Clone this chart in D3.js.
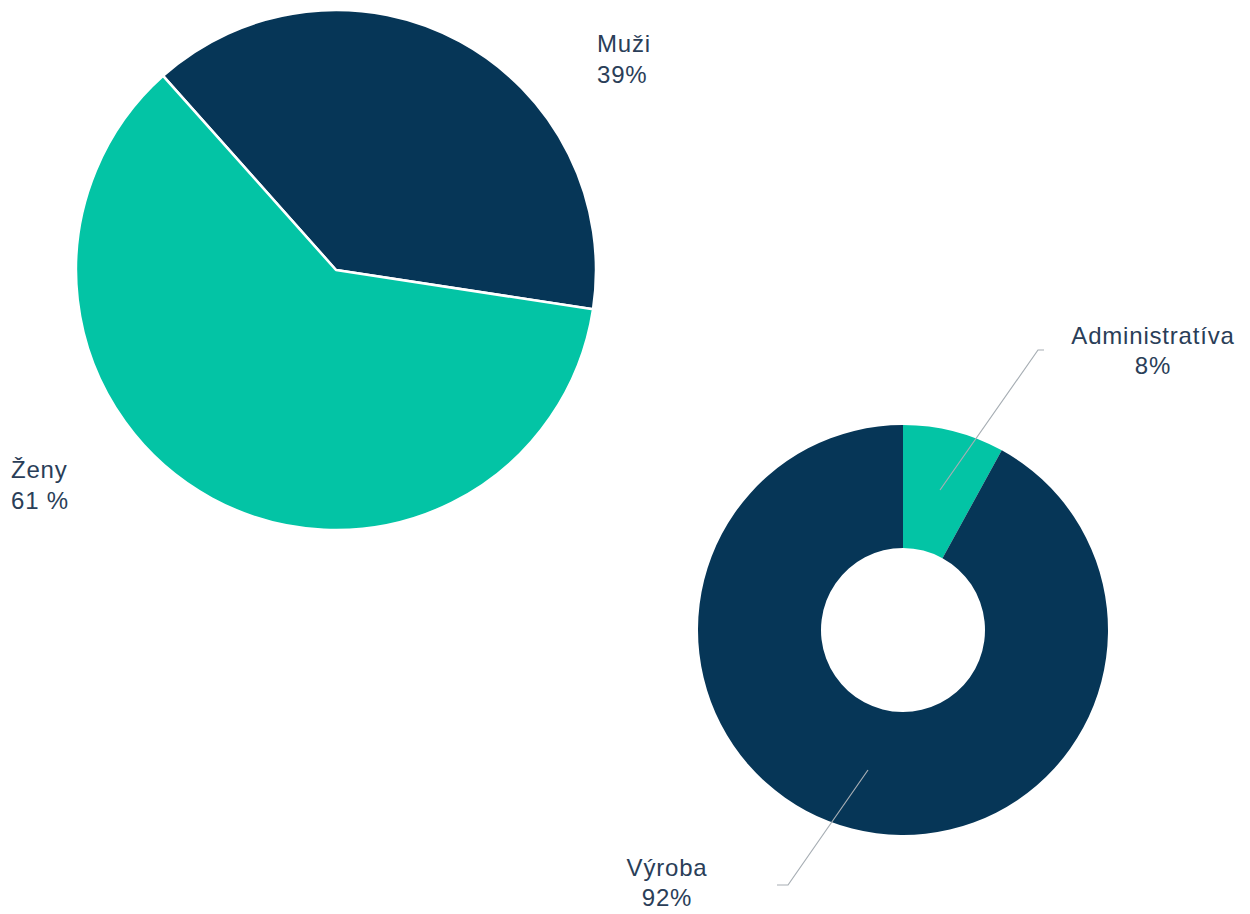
<!DOCTYPE html>
<html><head><meta charset="utf-8">
<script src="https://cdn.jsdelivr.net/npm/d3@7"></script>
<style>
html,body{margin:0;padding:0;background:#fff;}
text{font-family:"Liberation Sans",Arial,sans-serif;font-size:24px;fill:#2a3e58;letter-spacing:0.8px;}
</style></head><body>
<svg id="c" width="1250" height="914"></svg>
<script>
// Data
const genderCategories = ["Muži", "Ženy"];
const genderValues = [39, 61];
const genderLabels = ["39%", "61 %"];
const deptCategories = ["Administratíva", "Výroba"];
const deptValues = [8, 92];
const deptLabels = ["8%", "92%"];

const colorScale = d3.scaleOrdinal().domain(["dark","teal"]).range(["#063657", "#03c4a5"]);
const genderColors = [colorScale("dark"), colorScale("teal")];
const deptColors = [colorScale("teal"), colorScale("dark")];

const svg = d3.select("#c");
const deg = Math.PI / 180;

// Pie 1
const g1 = svg.append("g").attr("transform", "translate(336,270)");
const pie1 = d3.pie().sort(null).value(d => d.v).startAngle(-41.7 * deg).endAngle(318.3 * deg);
const arc1 = d3.arc().innerRadius(0).outerRadius(260);
const data1 = genderCategories.map((c, i) => ({c, v: genderValues[i], l: genderLabels[i], col: genderColors[i]}));
g1.selectAll("path").data(pie1(data1)).join("path")
  .attr("d", arc1).attr("fill", d => d.data.col)
  .attr("stroke", "#fff").attr("stroke-width", 2.5).attr("stroke-linejoin", "round");

const lab1 = [{x: 597, y: 52}, {x: 11, y: 478}];
data1.forEach((d, i) => {
  const t = svg.append("text").attr("x", lab1[i].x).attr("y", lab1[i].y);
  t.append("tspan").attr("x", lab1[i].x).text(d.c);
  t.append("tspan").attr("x", lab1[i].x).attr("dy", 31).text(d.l);
});

// Donut
const g2 = svg.append("g").attr("transform", "translate(903,630)");
const pie2 = d3.pie().sort(null).value(d => d.v);
const arc2 = d3.arc().innerRadius(82).outerRadius(205);
const data2 = deptCategories.map((c, i) => ({c, v: deptValues[i], l: deptLabels[i], col: deptColors[i]}));
const arcs2 = pie2(data2);
g2.selectAll("path").data(arcs2).join("path")
  .attr("d", arc2).attr("fill", d => d.data.col);

// Leader lines (layout, relative to donut centre)
const lead = [
  {start: [37, -140], end: [135, -280], tail: [141, -280], lx: 1153, ly: 344},
  {start: [-35, 140], end: [-115, 255], tail: [-126, 255], lx: 667, ly: 876}
];
arcs2.forEach((a, i) => {
  const L = lead[i];
  g2.append("polyline")
    .attr("points", [L.start, L.end, L.tail].map(q => q.join(",")).join(" "))
    .attr("fill", "none").attr("stroke", "#a7aeb4").attr("stroke-width", 1.2);
  const t = svg.append("text").attr("x", L.lx).attr("y", L.ly).attr("text-anchor", "middle");
  t.append("tspan").attr("x", L.lx).text(a.data.c);
  t.append("tspan").attr("x", L.lx).attr("dy", 30).text(a.data.l);
});
</script>
</body></html>
